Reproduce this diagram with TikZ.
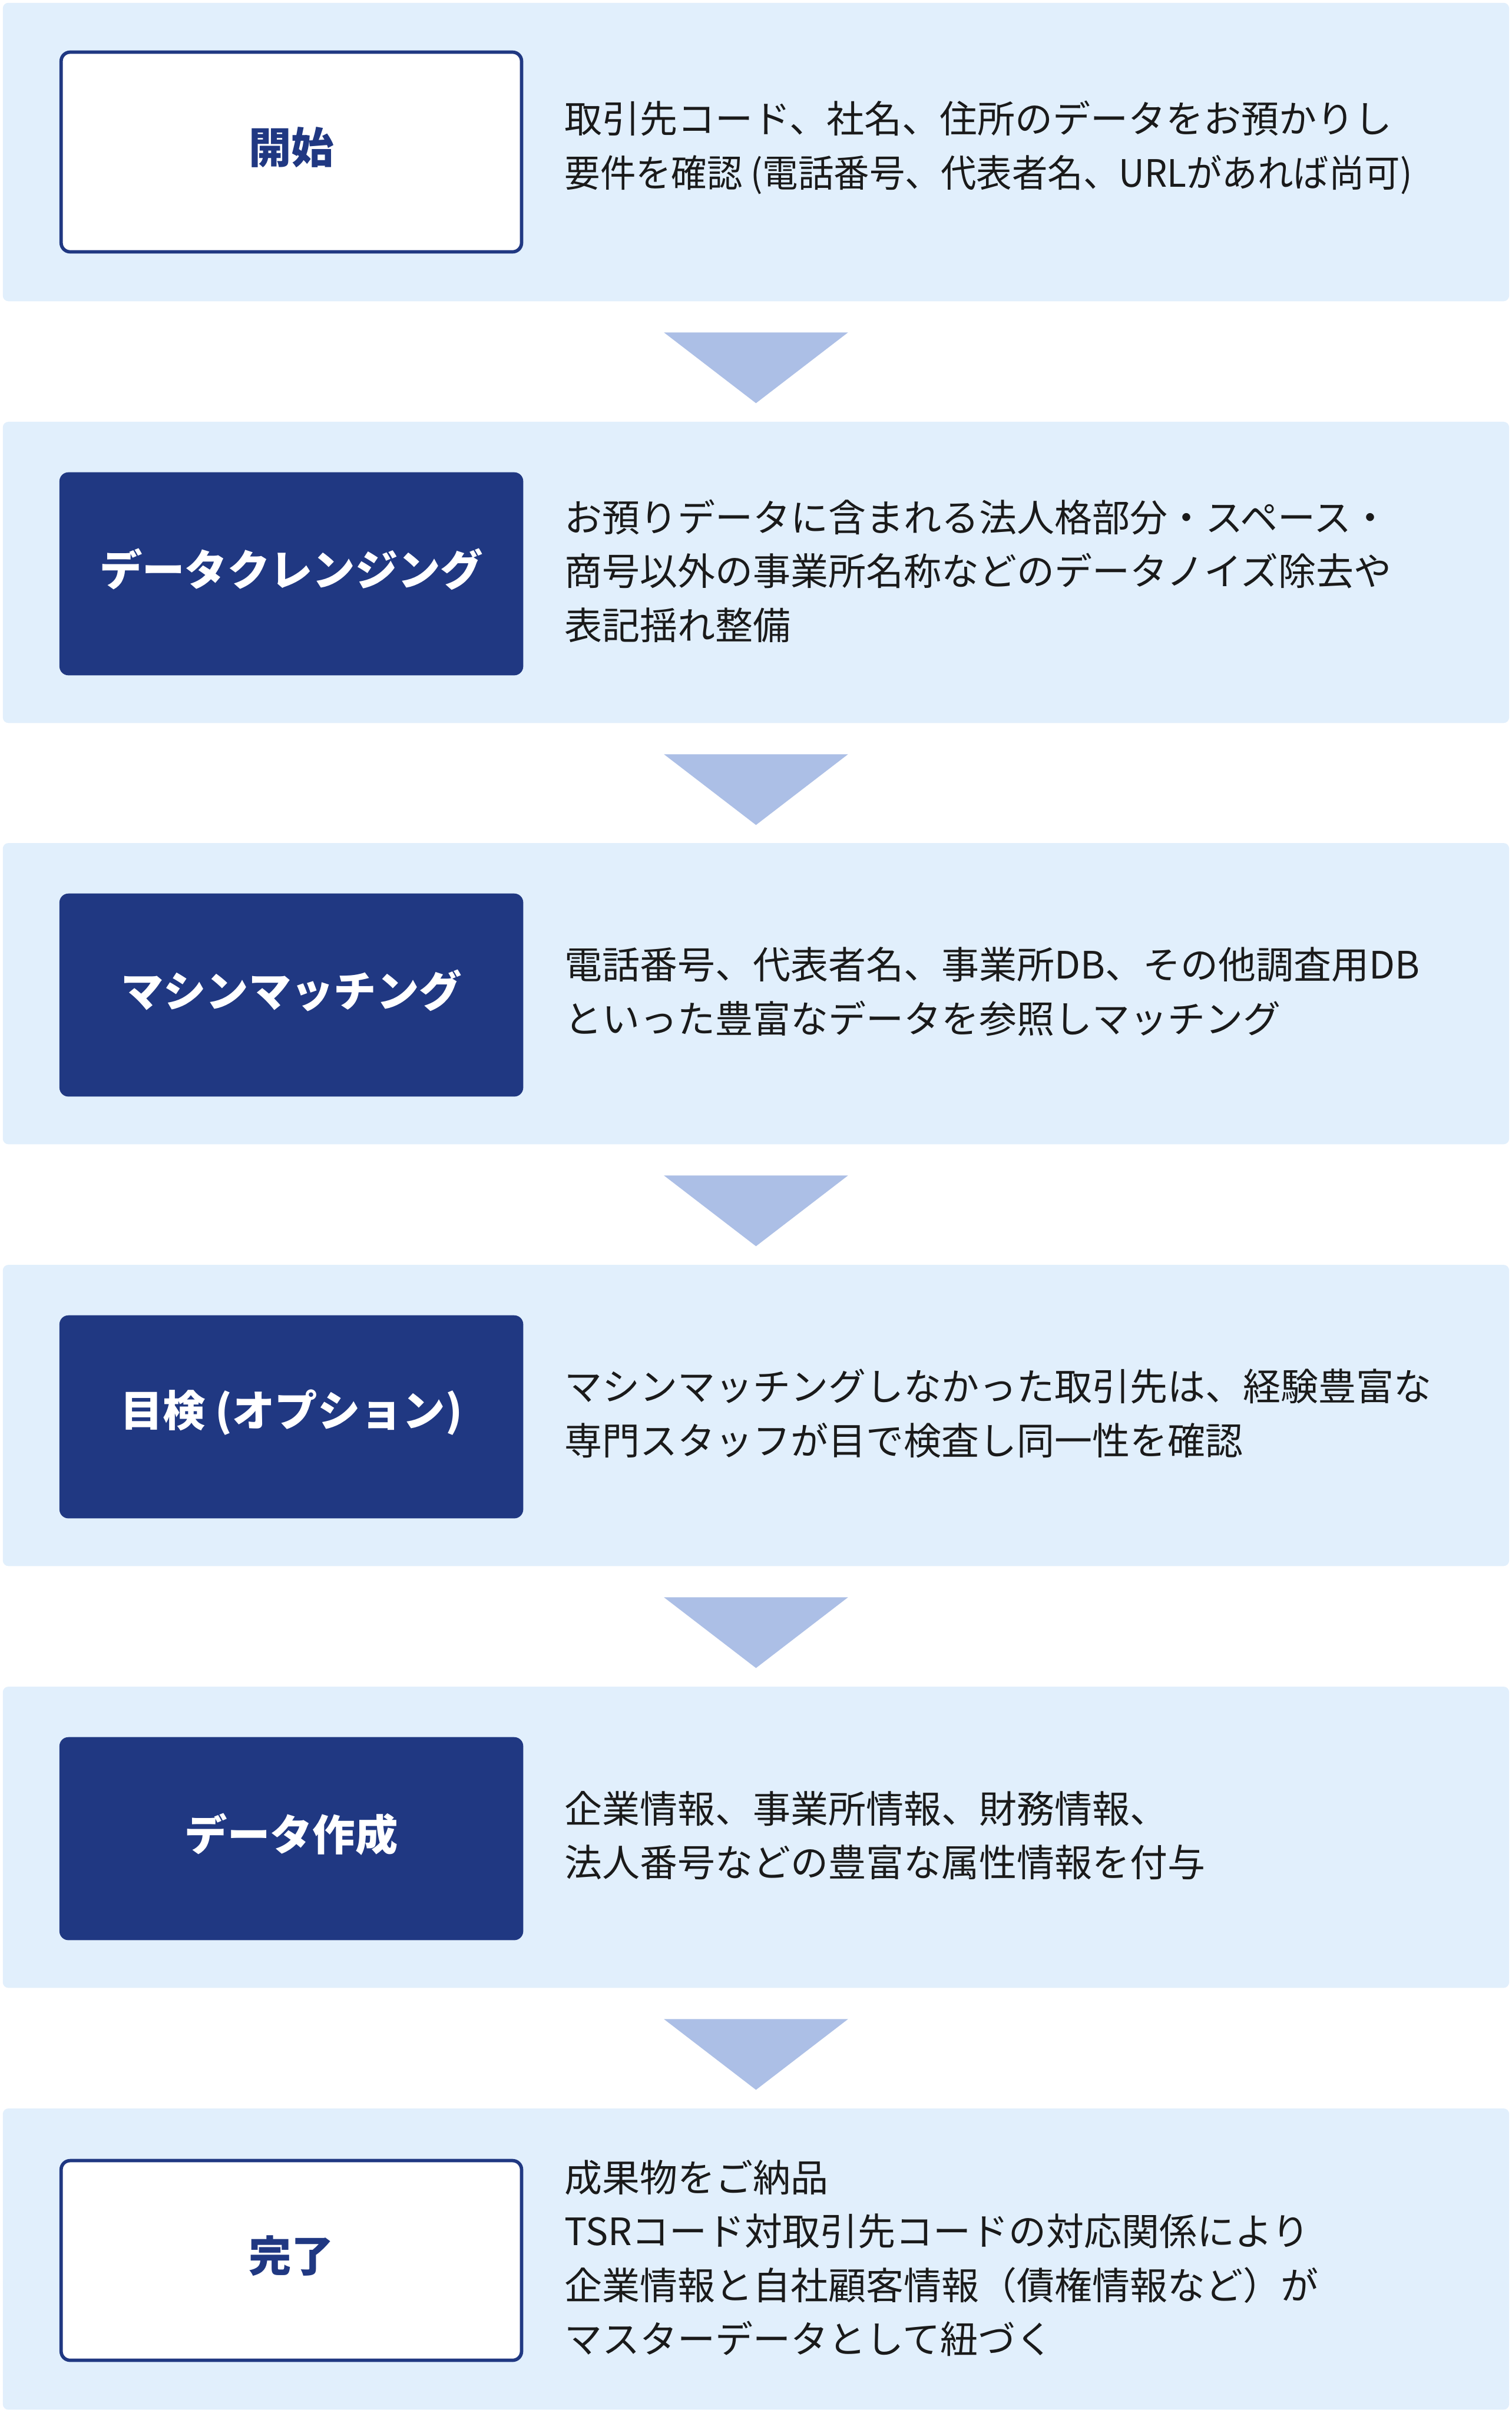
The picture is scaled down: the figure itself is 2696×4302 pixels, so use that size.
\documentclass[tikz,border=0pt]{standalone}
\usepackage{fontspec}
\setmainfont{Noto Sans CJK JP}
\usetikzlibrary{calc}
\definecolor{panelbg}{HTML}{E1EFFC}
\definecolor{navy}{HTML}{203882}
\definecolor{tricol}{HTML}{ACBFE6}
\definecolor{ink}{HTML}{1A1A1A}
\tikzset{
  panel/.style={fill=panelbg, rounded corners=2.5pt, minimum width=671.5pt, minimum height=134.25pt, inner sep=0pt},
  darkbox/.style={fill=navy, rounded corners=4pt, minimum width=206.75pt, minimum height=90.5pt, inner sep=0pt},
  outbox/.style={fill=white, draw=navy, line width=1.5pt, rounded corners=4pt, minimum width=205.25pt, minimum height=89pt, inner sep=0pt},
  darklabel/.style={font=\fontsize{19pt}{22pt}\selectfont\bfseries, text=white},
  outlabel/.style={font=\fontsize{19pt}{22pt}\selectfont\bfseries, text=navy},
  desc/.style={font=\fontsize{16.8pt}{24pt}\selectfont, text=ink, align=left, anchor=west, inner sep=0pt},
  flowtri/.style={fill=tricol}
}
\begin{document}
\begin{tikzpicture}[x=0.25pt, y=-0.25pt]
\useasboundingbox (0,0) rectangle (2696,4302);
\fill[white] (0,0) rectangle (2696,4302);
% panels
\node[panel, minimum height=133pt] (p1) at (1348,271) {};
\node[panel] (p2) at (1348,1020.5) {};
\node[panel] (p3) at (1348,1771.5) {};
\node[panel] (p4) at (1348,2523.5) {};
\node[panel] (p5) at (1348,3275.5) {};
\node[panel] (p6) at (1348,4027.5) {};
% step boxes
\node[outbox] (b1) at (519.5,271) {};
\node[darkbox] (b2) at (519.5,1023) {};
\node[darkbox] (b3) at (519.5,1774) {};
\node[darkbox] (b4) at (519.5,2526) {};
\node[darkbox] (b5) at (519.5,3278) {};
\node[outbox] (b6) at (519.5,4030) {};
% labels
\node[outlabel] (l1) at ($(b1.center)+(0,-8)$) {開始};
\node[darklabel] (l2) at ($(b2.center)+(0,-8)$) {データクレンジング};
\node[darklabel] (l3) at ($(b3.center)+(0,-8)$) {マシンマッチング};
\node[darklabel] (l4) at ($(b4.center)+(0,-8)$) {目検 (オプション)};
\node[darklabel] (l5) at ($(b5.center)+(0,-8)$) {データ作成};
\node[outlabel] (l6) at ($(b6.center)+(0,-8)$) {完了};
% descriptions
\node[desc] (d1) at (1006,263) {取引先コード、社名、住所のデータをお預かりし\\\scalebox{0.945}[1]{要件を確認 (電話番号、代表者名、URLがあれば尚可)}};
\node[desc] (d2) at (1006,1018) {お預りデータに含まれる法人格部分・スペース・\\商号以外の事業所名称などのデータノイズ除去や\\表記揺れ整備};
\node[desc] (d3) at (1006,1768) {電話番号、代表者名、事業所DB、その他調査用DB\\といった豊富なデータを参照しマッチング};
\node[desc] (d4) at (1006,2520) {マシンマッチングしなかった取引先は、経験豊富な\\専門スタッフが目で検査し同一性を確認};
\node[desc] (d5) at (1006,3272) {企業情報、事業所情報、財務情報、\\法人番号などの豊富な属性情報を付与};
\node[desc] (d6) at (1006,4026) {成果物をご納品\\TSRコード対取引先コードの対応関係により\\企業情報と自社顧客情報（債権情報など）が\\マスターデータとして紐づく};
% flow triangles
\foreach \a in {1,...,5}{
  \fill[flowtri] ($(p\a.south)+(-164,55)$) -- ($(p\a.south)+(164,55)$) -- ($(p\a.south)+(0,181)$) -- cycle;
}
\end{tikzpicture}
\end{document}
